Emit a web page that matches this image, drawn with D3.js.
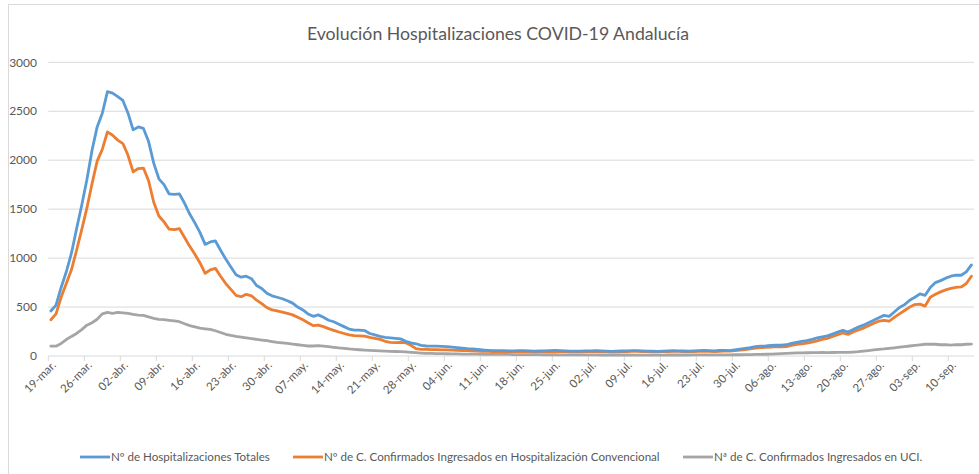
<!DOCTYPE html>
<html>
<head>
<meta charset="utf-8">
<script src="https://cdn.jsdelivr.net/npm/d3@7"></script>
<style>
  body { margin: 0; background: #fff; }
  svg { display: block; font-family: Lato, "Open Sans", sans-serif; }
</style>
</head>
<body>
<svg id="chart" width="979" height="474"></svg>
<script>
"use strict"

const tickLabels = ["19-mar.", "26-mar.", "02-abr.", "09-abr.", "16-abr.", "23-abr.", "30-abr.",
    "07-may.", "14-may.", "21-may.", "28-may.", "04-jun.", "11-jun.", "18-jun.", "25-jun.",
    "02-jul.", "09-jul.", "16-jul.", "23-jul.", "30-jul.", "06-ago.", "13-ago.", "20-ago.",
    "27-ago.", "03-sep.", "10-sep."]

const seriesNames = ["Nº de Hospitalizaciones Totales",
    "Nº de C. Confirmados Ingresados en Hospitalización Convencional",
    "Nª de C. Confirmados Ingresados en UCI."]

// one value per day, 19-mar .. 14-sep
const totales = [
    460, 520, 700, 860, 1050, 1300, 1540, 1800, 2100, 2340,
    2480, 2700, 2685, 2650, 2610, 2480, 2310, 2340, 2325, 2190,
    1970, 1810, 1750, 1655, 1650, 1655, 1560, 1450, 1360, 1260,
    1140, 1165, 1175, 1080, 990, 910, 830, 805, 815, 790,
    720, 690, 640, 615, 600, 585, 565, 540, 500, 470,
    430, 405, 420, 395, 365, 350, 325, 300, 275, 265,
    265, 260, 230, 215, 200, 190, 185, 180, 175, 150,
    135, 125, 108, 102, 100, 100, 98, 95, 90, 85,
    80, 75, 72, 68, 62, 58, 55, 55, 54, 52,
    53, 55, 54, 52, 50, 51, 53, 55, 56, 54,
    52, 50, 49, 50, 52, 53, 54, 52, 50, 48,
    49, 51, 53, 55, 54, 52, 50, 49, 48, 50,
    52, 54, 53, 51, 50, 52, 55, 57, 55, 53,
    56, 58, 55, 62, 70, 78, 85, 95, 100, 102,
    108, 112, 110, 115, 130, 140, 150, 158, 170, 185,
    195, 205, 225, 245, 262, 245, 270, 295, 315, 340,
    365, 390, 415, 405, 450, 495, 525, 570, 600, 635,
    620, 700, 750, 770, 795, 815, 825, 825, 860, 930]

const convencional = [
    370, 430, 600, 740, 880, 1080, 1290, 1510, 1760, 1990,
    2110, 2290, 2255, 2205, 2170, 2050, 1880, 1915, 1920, 1790,
    1570, 1430, 1370, 1295, 1290, 1300, 1210, 1120, 1040, 950,
    845, 880, 895, 815, 740, 680, 620, 605, 630, 615,
    570, 535, 495, 470, 460, 448, 435, 420, 395, 370,
    340, 310, 316, 300, 280, 262, 245, 230, 215, 208,
    205, 202, 190, 180, 170, 150, 140, 136, 140, 135,
    110, 75, 68, 68, 66, 65, 63, 62, 60, 58,
    56, 54, 52, 50, 48, 47, 46, 46, 45, 44,
    45, 46, 45, 44, 43, 44, 45, 46, 47, 45,
    44, 43, 42, 43, 44, 46, 47, 45, 44, 42,
    43, 44, 46, 48, 47, 45, 44, 43, 42, 44,
    46, 48, 47, 45, 44, 45, 47, 50, 48, 46,
    47, 49, 50, 55, 60, 66, 72, 80, 85, 88,
    92, 95, 94, 96, 108, 118, 125, 132, 142, 155,
    170, 180, 200, 218, 235, 220, 245, 265, 285, 310,
    335, 355, 365, 355, 395, 430, 465, 500, 525, 530,
    510, 600, 630, 655, 675, 690, 700, 705, 740, 815]

const uci = [
    100, 100, 128, 168, 200, 230, 270, 315, 340, 375,
    430, 445, 435, 445, 440, 435, 425, 418, 415, 400,
    385, 375, 372, 365, 358, 350, 330, 310, 298, 285,
    278, 272, 258, 240, 222, 210, 200, 192, 185, 178,
    170, 163, 156, 148, 140, 135, 128, 122, 115, 108,
    102, 102, 105, 100, 95, 88, 82, 78, 72, 68,
    64, 60, 57, 54, 52, 50, 48, 46, 44, 42,
    38, 34, 30, 27, 26, 25, 24, 23, 22, 21,
    20, 20, 19, 19, 18, 18, 17, 17, 16, 16,
    15, 15, 15, 14, 14, 14, 13, 13, 13, 12,
    12, 12, 12, 11, 11, 11, 11, 10, 10, 10,
    10, 10, 10, 9, 9, 9, 9, 9, 9, 9,
    10, 10, 10, 10, 10, 11, 11, 11, 11, 11,
    12, 12, 12, 13, 13, 14, 15, 16, 17, 18,
    20, 22, 24, 27, 29, 31, 32, 33, 34, 35,
    36, 35, 36, 37, 38, 37, 40, 44, 50, 56,
    62, 68, 72, 78, 84, 90, 96, 102, 108, 114,
    120, 122, 120, 115, 117, 112, 116, 115, 120, 122]

const yTicks = [0, 500, 1000, 1500, 2000, 2500, 3000]
const colors = ["#5B9BD5", "#ED7D31", "#A5A5A5"]

const W = 979, H = 474
const margin = {left: 48.3, right: 5, top: 62.3, bottom: 118}
const textColor = "#595959"

const svg = d3.select("#chart")

// outer chart border
svg.append("rect")
    .attr("x", 8.5).attr("y", 4.5)
    .attr("width", 1000).attr("height", 500)
    .attr("fill", "#fff").attr("stroke", "#d9d9d9")

const nDays = totales.length
const x = d3.scaleLinear().domain([0, nDays]).range([margin.left, W - margin.right])
const y = d3.scaleLinear().domain([0, 3000]).range([356, margin.top])
const cx = i => x(i + 0.5)

// gridlines
svg.append("g")
    .selectAll("line")
    .data(yTicks.slice(1))
    .join("line")
    .attr("x1", x(0)).attr("x2", x(nDays))
    .attr("y1", d => y(d)).attr("y2", d => y(d))
    .attr("stroke", "#d9d9d9").attr("stroke-width", 1)

// y axis labels
svg.append("g")
    .selectAll("text")
    .data(yTicks)
    .join("text")
    .attr("x", 37).attr("y", d => y(d))
    .attr("dy", "0.35em")
    .attr("text-anchor", "end")
    .attr("fill", textColor)
    .style("font-size", "12px")
    .text(d => d)

// x axis: base line, week ticks, rotated labels
const weekIdx = tickLabels.map((_, i) => i * 7)
const xAxis = svg.append("g")
xAxis.append("line")
    .attr("x1", x(0)).attr("x2", x(nDays))
    .attr("y1", y(0)).attr("y2", y(0))
    .attr("stroke", "#d9d9d9")
xAxis.selectAll("line.tick")
    .data(weekIdx)
    .join("line").attr("class", "tick")
    .attr("x1", d => x(d)).attr("x2", d => x(d))
    .attr("y1", y(0)).attr("y2", y(0) + 5)
    .attr("stroke", "#d9d9d9")
xAxis.selectAll("text")
    .data(weekIdx)
    .join("text")
    .attr("transform", (d, i) => `translate(${cx(d) + 3},${y(0) + 7}) rotate(-45)`)
    .attr("text-anchor", "end")
    .attr("dy", "0.35em")
    .attr("fill", textColor)
    .style("font-size", "11.5px")
    .text((d, i) => tickLabels[i])

// series lines, drawn back to front
const line = d3.line().x((d, i) => cx(i)).y(d => y(d))
const series = [totales, convencional, uci]
series.slice().reverse().forEach((s, k) => {
    svg.append("path")
        .datum(s)
        .attr("d", line)
        .attr("fill", "none")
        .attr("stroke", colors[2 - k])
        .attr("stroke-width", 2.8)
        .attr("stroke-linejoin", "round")
        .attr("stroke-linecap", "round")
})

// title
svg.append("text")
    .attr("x", 498).attr("y", 40)
    .attr("text-anchor", "middle")
    .attr("fill", textColor)
    .style("font-size", "17.7px")
    .text("Evolución Hospitalizaciones COVID-19 Andalucía")

// legend
const legendX = [80, 293, 683]
const legend = svg.append("g")
    .selectAll("g")
    .data(seriesNames)
    .join("g")
    .attr("transform", (d, i) => `translate(${legendX[i]},457)`)
legend.append("line")
    .attr("x1", 0).attr("x2", 30)
    .attr("stroke", (d, i) => colors[i])
    .attr("stroke-width", 2.8)
legend.append("text")
    .attr("x", 31).attr("dy", "0.35em")
    .attr("fill", textColor)
    .style("font-size", "11.6px")
    .text(d => d)
</script>
</body>
</html>
